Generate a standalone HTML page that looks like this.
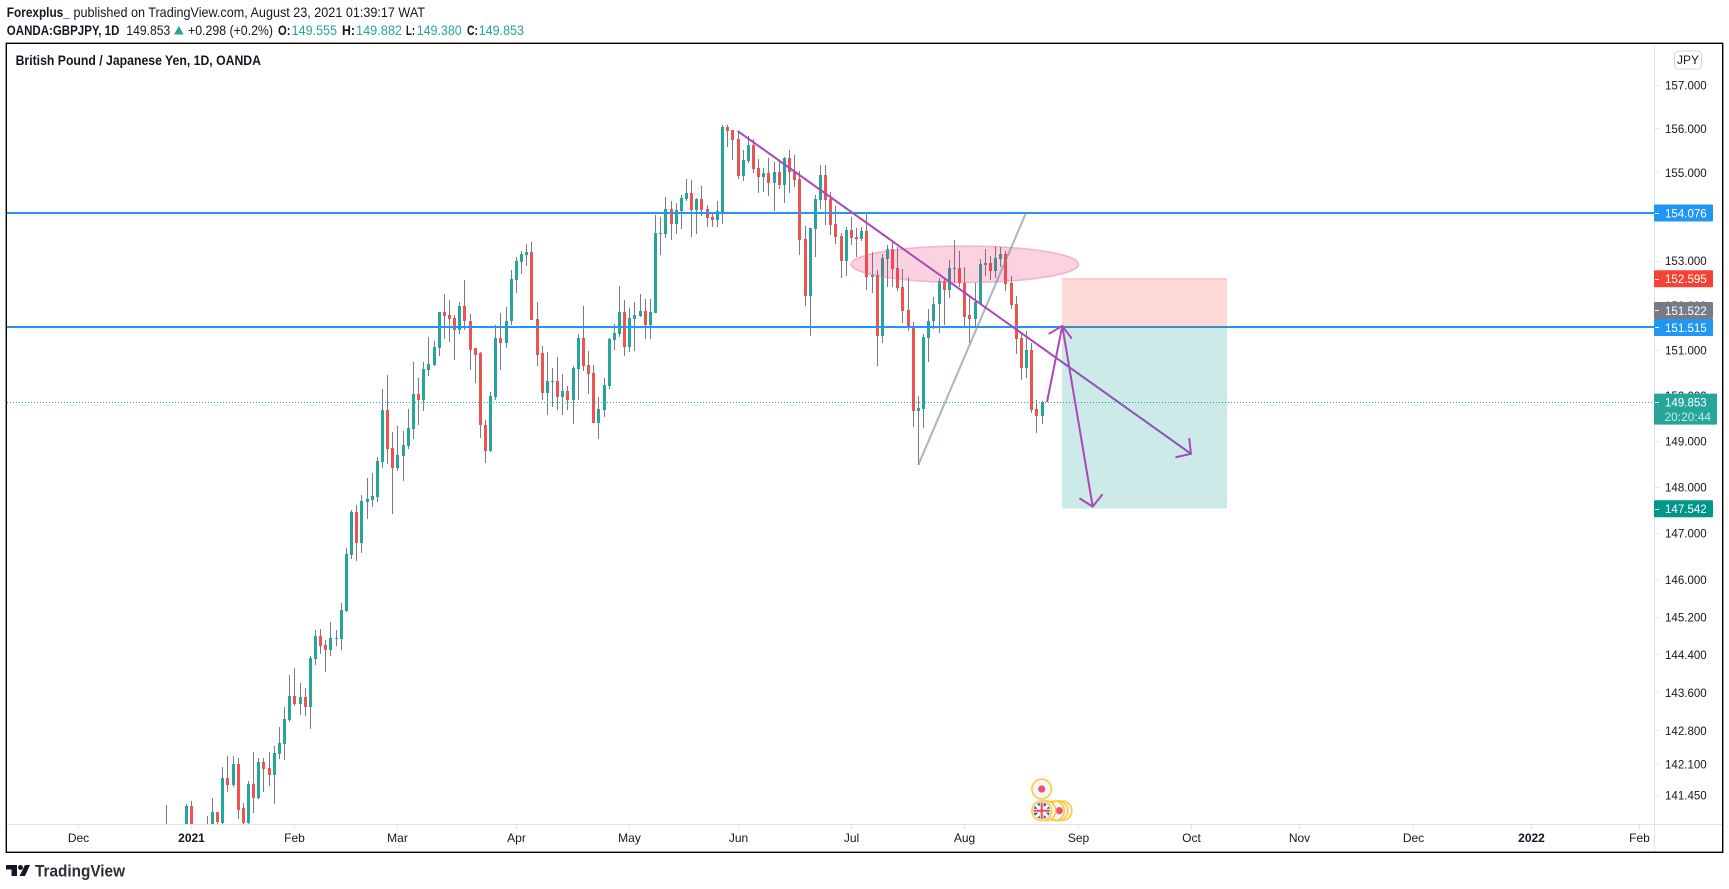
<!DOCTYPE html>
<html lang="en">
<head>
<meta charset="utf-8">
<title>GBPJPY chart</title>
<style>
html,body{margin:0;padding:0;background:#fff;width:1729px;height:889px;overflow:hidden}
svg{display:block;font-family:"Liberation Sans",sans-serif}
text{fill:#131722}
</style>
</head>
<body>
<svg id="root" width="1729" height="889" viewBox="0 0 1729 889" xmlns="http://www.w3.org/2000/svg">
  <defs>
    <clipPath id="pane-clip"><rect x="7" y="44" width="1647" height="780"/></clipPath>
    <clipPath id="flag-clip"><circle cx="1041.7" cy="810.7" r="8.2"/></clipPath>
  </defs>

  <g font-size="14">
    <text x="6.8" y="17" font-weight="700" textLength="63" lengthAdjust="spacingAndGlyphs">Forexplus_</text>
    <text x="73.5" y="17" textLength="351.5" lengthAdjust="spacingAndGlyphs">published on TradingView.com, August 23, 2021 01:39:17 WAT</text>
    <text x="6.8" y="35" font-weight="700" textLength="112.6" lengthAdjust="spacingAndGlyphs">OANDA:GBPJPY, 1D</text>
    <text x="126.3" y="35" textLength="44" lengthAdjust="spacingAndGlyphs">149.853</text>
    <polygon points="174,34.5 178.8,26 183.6,34.5" fill="#26a69a"/>
    <text x="188" y="35" textLength="85" lengthAdjust="spacingAndGlyphs">+0.298 (+0.2%)</text>
    <text x="278" y="35" font-weight="700" textLength="12.5" lengthAdjust="spacingAndGlyphs">O:</text>
    <text x="291.6" y="35" style="fill:#26a69a" textLength="45.4" lengthAdjust="spacingAndGlyphs">149.555</text>
    <text x="342" y="35" font-weight="700" textLength="13" lengthAdjust="spacingAndGlyphs">H:</text>
    <text x="356" y="35" style="fill:#26a69a" textLength="46" lengthAdjust="spacingAndGlyphs">149.882</text>
    <text x="406" y="35" font-weight="700" textLength="9" lengthAdjust="spacingAndGlyphs">L:</text>
    <text x="416.7" y="35" style="fill:#26a69a" textLength="45" lengthAdjust="spacingAndGlyphs">149.380</text>
    <text x="467" y="35" font-weight="700" textLength="11" lengthAdjust="spacingAndGlyphs">C:</text>
    <text x="478.7" y="35" style="fill:#26a69a" textLength="45.3" lengthAdjust="spacingAndGlyphs">149.853</text>
  </g>

  <g id="candles" clip-path="url(#pane-clip)" shape-rendering="crispEdges"></g>
  <g id="overlays"></g>

  <text x="15.6" y="65" font-size="14" font-weight="700" textLength="245.4" lengthAdjust="spacingAndGlyphs">British Pound / Japanese Yen, 1D, OANDA</text>

  <g id="events"></g>

  <g id="time-axis"></g>
  <g id="price-axis"></g>

  <g>
    <rect x="1674.5" y="51" width="27" height="18" rx="4" fill="#fff" stroke="#d1d4dc"/>
    <text x="1688" y="64" font-size="12" text-anchor="middle">JPY</text>
  </g>

  <rect x="6.3" y="43.3" width="1716.4" height="809" fill="none" stroke="#000" stroke-width="1.4"/>

  <g>
    <path d="M6 865H17V876H11.5V869.5H6ZM20.5 865a2.5 2.5 0 1 1-.01 0ZM25 865H30L25 876H19.5Z" fill="#131722"/>
    <text x="35" y="876.5" font-size="17" font-weight="700" style="fill:#2a2e39" textLength="90" lengthAdjust="spacingAndGlyphs">TradingView</text>
  </g>
</svg>

<script>
// ---------- series data (GBPJPY daily) ----------
const opens = [
140.6,140.5,140.4,140.5,140.6,141.23,140.7,140.5,140.5,140.7,
141.10,140.87,141.80,141.66,142.10,141.17,140.87,141.68,141.39,142.14,
142.01,141.87,142.31,142.52,143.02,143.52,143.35,143.50,143.29,144.31,
144.80,144.61,144.50,144.72,144.72,145.33,146.52,147.45,146.78,147.67,
147.71,147.78,148.55,149.69,148.85,148.42,148.68,148.90,149.27,150.04,
149.91,150.57,150.68,151.06,151.86,151.79,151.72,151.44,151.99,151.66,
151.04,150.93,149.36,148.79,149.97,151.28,151.17,151.64,152.57,152.98,
153.13,153.20,151.70,150.93,150.06,150.30,150.32,149.97,150.10,149.91,
150.59,151.28,150.68,150.50,149.40,149.68,150.21,151.23,151.37,151.86,
151.08,151.70,151.77,151.88,151.57,151.83,153.60,153.60,154.16,153.82,
154.12,154.39,154.53,154.14,154.39,154.16,153.98,153.91,154.10,156.03,
155.96,155.76,154.92,155.26,155.62,155.10,154.89,154.98,154.76,155.01,
154.71,155.33,155.03,154.85,153.49,152.21,153.71,154.37,154.94,154.39,
153.82,153.55,152.99,153.69,153.53,153.49,153.67,152.63,152.67,151.31,
153.03,153.26,152.83,152.40,151.89,151.51,149.66,149.70,151.27,151.64,
152.02,152.54,152.34,152.81,152.83,152.51,151.78,151.69,152.04,152.90,
152.94,152.76,153.03,153.14,152.49,152.02,151.27,150.60,151.00,149.70,149.555];
const highs = [
141.25,140.7,140.6,140.7,141.27,141.33,140.8,140.7,141.02,141.39,
141.10,142.03,142.26,142.26,142.22,141.29,141.74,142.35,142.22,142.22,
142.35,142.47,142.87,143.29,143.97,144.12,143.80,143.69,144.37,144.91,
144.95,144.70,145.10,144.93,145.50,146.67,147.49,147.60,147.82,148.19,
148.31,148.64,150.15,150.46,149.19,149.32,149.21,149.71,150.75,150.39,
150.73,151.30,151.21,151.86,152.26,152.12,151.79,152.08,152.57,151.81,
151.04,150.95,149.47,150.08,151.57,151.83,151.97,152.80,153.09,153.22,
153.38,153.43,152.08,151.10,150.95,150.61,150.86,150.48,150.21,150.64,
151.35,151.99,150.99,150.68,149.97,150.39,151.28,151.59,152.43,152.12,
151.94,152.08,152.25,152.14,152.14,154.03,153.98,154.44,154.34,154.30,
154.48,154.85,154.82,154.41,154.69,154.26,154.10,154.34,156.08,156.08,
155.96,155.94,155.51,155.83,155.76,155.30,155.10,155.33,155.23,155.28,
155.35,155.51,155.40,155.03,153.78,153.73,154.48,155.16,155.16,154.55,
154.23,153.62,153.76,153.98,153.73,153.76,154.05,153.19,152.79,153.16,
153.35,153.46,153.30,152.81,152.63,151.62,149.99,151.36,151.91,152.18,
152.61,152.58,153.01,153.46,153.21,152.85,152.18,152.51,153.03,153.26,
153.10,153.33,153.30,153.21,152.65,152.20,151.36,151.42,151.15,149.90,149.882];
const lows = [
140.3,140.3,140.2,140.3,140.5,140.5,140.4,140.2,140.3,140.6,
140.8,140.8,141.52,141.62,140.95,140.8,140.8,141.08,141.37,141.52,
141.64,141.27,142.20,142.18,142.98,143.31,143.12,143.10,142.83,144.18,
144.42,144.03,144.37,144.57,144.50,145.31,146.44,146.40,146.57,147.30,
147.56,147.67,148.42,148.49,147.41,148.34,148.12,148.83,149.05,149.36,
149.65,150.44,150.64,150.88,151.24,151.19,150.79,151.35,151.46,150.57,
150.28,149.07,148.53,148.77,149.89,150.57,151.06,151.55,152.28,152.71,
152.89,151.68,150.66,149.89,149.58,149.75,149.67,149.58,149.69,149.38,
149.89,150.55,150.04,149.40,149.05,149.53,150.15,151.01,151.30,150.88,
150.95,150.99,151.74,151.26,151.26,151.83,153.13,153.51,153.46,153.60,
153.71,154.34,153.53,153.60,154.00,153.76,153.76,153.76,153.82,155.58,
155.28,154.85,154.80,155.21,154.98,154.53,154.55,154.46,154.12,154.62,
154.30,154.53,154.66,153.13,151.99,151.32,153.08,154.16,153.80,153.58,
153.37,152.61,152.65,153.35,153.08,153.44,152.34,152.27,150.65,151.15,
152.40,152.40,152.31,151.60,151.42,149.31,148.48,149.28,150.73,151.47,
151.38,151.55,152.16,152.49,152.42,151.53,151.15,151.53,152.04,152.65,
152.56,152.61,152.85,152.31,151.91,150.91,150.34,150.38,149.62,149.18,149.38];
const closes = [
140.7,140.4,140.5,140.6,141.23,140.7,140.5,140.4,140.7,141.10,
140.88,141.80,141.66,142.10,141.14,140.87,141.68,141.39,142.14,141.99,
141.87,142.33,142.54,143.04,143.52,143.35,143.50,143.29,144.33,144.80,
144.59,144.50,144.74,144.74,145.35,146.54,147.45,146.78,147.69,147.73,
147.80,148.57,149.69,148.83,148.42,148.70,148.92,149.29,150.04,149.91,
150.59,150.70,151.08,151.86,151.77,151.70,151.44,151.99,151.64,151.01,
150.90,149.34,148.79,149.99,151.28,151.17,151.66,152.59,153.00,153.15,
153.20,151.68,150.90,150.06,150.32,150.32,149.97,150.10,149.91,150.61,
151.28,150.66,150.48,149.40,149.71,150.23,151.26,151.39,151.86,151.08,
151.72,151.79,151.88,151.57,151.86,153.62,153.62,154.16,153.82,154.14,
154.41,154.53,154.14,154.39,154.14,153.96,153.91,154.12,156.03,155.94,
155.74,154.92,155.28,155.62,155.07,154.89,154.98,154.76,155.01,154.71,
155.33,155.01,154.82,153.46,152.21,153.73,154.39,154.94,154.37,153.80,
153.53,152.99,153.69,153.51,153.49,153.67,152.63,152.67,151.32,153.05,
153.26,152.81,152.38,151.87,151.53,149.66,149.72,151.29,151.66,152.04,
152.54,152.34,152.83,152.83,152.49,151.75,151.69,152.07,152.92,152.94,
152.76,153.05,153.14,152.47,152.00,151.24,150.60,151.00,149.68,149.55,149.853];

// ---------- axis data ----------
const priceTickValues = [157,156,155,154,153,152,151,150,149,148,147,146,145.2,144.4,143.6,142.8,142.1,141.45];
const priceTickLabels = ["157.000","156.000","155.000","154.000","153.000","152.000","151.000","150.000","149.000","148.000","147.000","146.000","145.200","144.400","143.600","142.800","142.100","141.450"];
const timeTickLabels = ["Dec","2021","Feb","Mar","Apr","May","Jun","Jul","Aug","Sep","Oct","Nov","Dec","2022","Feb"];
const timeTickBars = [-17,5,25,45,68,90,111,133,155,177,199,220,242,265,286];
const timeTickBold = ["2021","2022"];

// ---------- levels & drawings: bar index / price ----------
const horizontalLevels = [154.076,151.515];
const lastPrice = 149.853;
const countdown = "20:20:44";
const stopPrice = 152.595;
const entryPrice = 151.522;
const targetPrice = 147.542;
const positionBars = [173.77,205.8];
const trendBars = [110.84,198.8];
const trendPrices = [155.94,148.72];
const greyBars = [145.9,166.8];
const greyPrices = [148.48,154.08];
const arrowUpBars = [170.86,173.83];
const arrowUpPrices = [149.855,151.54];
const arrowDownBars = [173.83,179.73];
const arrowDownPrices = [151.54,147.57];
const ellipseBars = [132.85,177.01];
const ellipsePrices = [153.33,152.51];

// ---------- scales ----------
function xOf(i){return 166.55+5.153*i;}
function yOf(p){return 85+6807*Math.log(157/p);}

const NS="http://www.w3.org/2000/svg";
function mk(parent,tag,attrs,txt){
  const el=document.createElementNS(NS,tag);
  for(const k in attrs){el.setAttribute(k,attrs[k]);}
  if(txt!==undefined){el.textContent=txt;}
  parent.appendChild(el);
  return el;
}

// ---------- candles ----------
const candleGroup=document.getElementById('candles');
opens.forEach(function(o,i){
  const c=closes[i];
  const col=Math.floor(xOf(i)-0.5);
  const up=c>=o;
  const g=mk(candleGroup,'g',{});
  
  
  const wt=Math.round(yOf(highs[i]));
  const wb=Math.round(yOf(lows[i]));
  const wick=mk(g,'rect',{x:col,y:wt,width:1,height:Math.max(1,wb-wt),fill:'#787b86'});
  
  
  const bt=Math.round(yOf(Math.max(o,c)));
  const bb=Math.round(yOf(Math.min(o,c)));
  const body=mk(g,'rect',{x:col-1,y:bt,width:3,height:Math.max(1,bb-bt),fill:up?'#26a69a':'#ef5350'});
  
  
});

// ---------- overlays ----------
const ov=document.getElementById('overlays');

const lastLine=mk(ov,'line',{x1:7,x2:1654,y1:Math.round(yOf(lastPrice))+0.5,y2:Math.round(yOf(lastPrice))+0.5,stroke:'#26a69a','stroke-width':1,'stroke-dasharray':'1 2'});



horizontalLevels.forEach(function(p){
  const l=mk(ov,'line',{x1:7,x2:1654,y1:Math.round(yOf(p)),y2:Math.round(yOf(p)),stroke:'#2196f3','stroke-width':2});
  
  
});

const ell=mk(ov,'ellipse',{
  cx:(xOf(ellipseBars[0])+xOf(ellipseBars[1]))/2,
  cy:(yOf(ellipsePrices[0])+yOf(ellipsePrices[1]))/2,
  rx:(xOf(ellipseBars[1])-xOf(ellipseBars[0]))/2,
  ry:(yOf(ellipsePrices[1])-yOf(ellipsePrices[0]))/2,
  fill:'rgba(233,30,99,0.2)',stroke:'rgba(240,98,146,0.4)','stroke-width':1.5});



const grey=mk(ov,'line',{x1:xOf(greyBars[0]),y1:yOf(greyPrices[0]),x2:xOf(greyBars[1]),y2:yOf(greyPrices[1]),stroke:'rgba(120,144,156,0.65)','stroke-width':2});



function arrowHead(parent,x1,y1,x2,y2){
  const back=Math.atan2(y1-y2,x1-x2);
  [-0.84,0.84].forEach(function(d){
    const w=mk(parent,'line',{x1:x2,y1:y2,x2:x2+15*Math.cos(back+d),y2:y2+15*Math.sin(back+d),stroke:'#ab47bc','stroke-width':2,'stroke-linecap':'round'});
    
    
  });
}

const trend=mk(ov,'line',{x1:xOf(trendBars[0]),y1:yOf(trendPrices[0]),x2:xOf(trendBars[1]),y2:yOf(trendPrices[1]),stroke:'#ab47bc','stroke-width':2});



const stopBox=mk(ov,'rect',{x:xOf(positionBars[0]),y:yOf(stopPrice),width:xOf(positionBars[1])-xOf(positionBars[0]),height:yOf(entryPrice)-yOf(stopPrice),fill:'rgba(244,67,54,0.2)'});


const stopEdge=mk(ov,'line',{x1:xOf(positionBars[0]),x2:xOf(positionBars[1]),y1:yOf(stopPrice),y2:yOf(stopPrice),stroke:'rgba(244,67,54,0.3)','stroke-width':1});


const targetBox=mk(ov,'rect',{x:xOf(positionBars[0]),y:yOf(entryPrice),width:xOf(positionBars[1])-xOf(positionBars[0]),height:yOf(targetPrice)-yOf(entryPrice)+0.6,fill:'rgba(0,150,136,0.2)'});


const entryEdge=mk(ov,'line',{x1:xOf(positionBars[0]),x2:xOf(positionBars[1]),y1:yOf(entryPrice),y2:yOf(entryPrice),stroke:'rgba(120,123,134,0.6)','stroke-width':1});



arrowHead(ov,xOf(trendBars[0]),yOf(trendPrices[0]),xOf(trendBars[1]),yOf(trendPrices[1]));

const aUp=mk(ov,'line',{x1:xOf(arrowUpBars[0]),y1:yOf(arrowUpPrices[0]),x2:xOf(arrowUpBars[1]),y2:yOf(arrowUpPrices[1]),stroke:'#ab47bc','stroke-width':2});


arrowHead(ov,xOf(arrowUpBars[0]),yOf(arrowUpPrices[0]),xOf(arrowUpBars[1]),yOf(arrowUpPrices[1]));

const aDown=mk(ov,'line',{x1:xOf(arrowDownBars[0]),y1:yOf(arrowDownPrices[0]),x2:xOf(arrowDownBars[1]),y2:yOf(arrowDownPrices[1]),stroke:'#ab47bc','stroke-width':2});


arrowHead(ov,xOf(arrowDownBars[0]),yOf(arrowDownPrices[0]),xOf(arrowDownBars[1]),yOf(arrowDownPrices[1]));

// ---------- time axis ----------
const timeG=document.getElementById('time-axis');
const timeLine=mk(timeG,'rect',{x:7,y:824,width:1715,height:1,fill:'#e0e3eb'});


timeTickLabels.forEach(function(label,i){
  const x=Math.round(xOf(timeTickBars[i]));
  const tk=mk(timeG,'rect',{x:x-1,y:825,width:1,height:4,fill:'#e0e3eb'});
  
  
  const bold=timeTickBold.indexOf(label)>=0;
  const t=mk(timeG,'text',{x:x-0.5,y:842,'font-size':12,'text-anchor':'middle','font-weight':bold?700:400},label);
  
  
});

// ---------- price axis ----------
const priceG=document.getElementById('price-axis');
const priceLine=mk(priceG,'rect',{x:1654,y:44,width:1,height:808,fill:'#e0e3eb'});


priceTickValues.forEach(function(v,i){
  const y=yOf(v);
  const tk=mk(priceG,'rect',{x:1655,y:Math.round(y),width:4,height:1,fill:'#e0e3eb'});
  
  
  const t=mk(priceG,'text',{x:1665,y:y+4.5,'font-size':12,textLength:41.7,lengthAdjust:'spacingAndGlyphs'},priceTickLabels[i]);
  
  
});

function priceBadge(price,fill,shift){
  const cy=yOf(price)+shift;
  const g=mk(priceG,'g',{});
  
  
  const r=mk(g,'rect',{x:1654,y:cy-8.5,width:59,height:17,fill:fill,rx:1});
  
  
  const tk=mk(g,'rect',{x:1655,y:Math.round(cy),width:4,height:1,fill:'#fff'});
  
  
  const t=mk(g,'text',{x:1665,y:cy+4.5,'font-size':12,style:'fill:#fff',textLength:41.7,lengthAdjust:'spacingAndGlyphs'},price.toFixed(3));
  
  
}
priceBadge(horizontalLevels[0],'#2196f3',0);
priceBadge(stopPrice,'#f44336',0);
priceBadge(entryPrice,'#787b86',-16.3);
priceBadge(horizontalLevels[1],'#2196f3',0.4);
priceBadge(targetPrice,'#009688',0.8);

// last-price badge with countdown
const lastY=yOf(lastPrice);
const lastBox=mk(priceG,'rect',{x:1654,y:lastY-8.5,width:63,height:31,fill:'#26a69a',rx:1});


const lastTick=mk(priceG,'rect',{x:1655,y:Math.round(lastY),width:4,height:1,fill:'#fff'});


const lastTxt=mk(priceG,'text',{x:1665,y:lastY+4.5,'font-size':12,style:'fill:#fff',textLength:41.7,lengthAdjust:'spacingAndGlyphs'},lastPrice.toFixed(3));


const cdTxt=mk(priceG,'text',{x:1664.5,y:lastY+18.8,'font-size':12,style:'fill:rgba(255,255,255,0.75)',textLength:46.5,lengthAdjust:'spacingAndGlyphs'},countdown);



// ---------- event badges ----------
const ev=document.getElementById('events');
function ring(cx,cy,fill){
  const c=mk(ev,'circle',{cx:cx,cy:cy,r:9.8,fill:fill,stroke:'#ffc93c','stroke-width':1.6});
  
  
}
function dot(cx,cy){
  const c=mk(ev,'circle',{cx:cx,cy:cy,r:3.6,fill:'#f0506e'});
  
  
}
ring(1041.7,789,'#f6f6fb');
dot(1041.7,789);
ring(1062,810.7,'#f6f6fb');
ring(1058,810.7,'#f6f6fb');
dot(1059.3,810.7);
ring(1054.5,810.7,'none');
ring(1046,810.7,'#f6f6fb');
ring(1041.7,810.7,'#fff');
const flag=mk(ev,'g',{'clip-path':'url(#flag-clip)'});


const flagBg=mk(flag,'rect',{x:1033,y:802,width:18,height:18,fill:'#3c4c96'});


const flagD1=mk(flag,'line',{x1:1033,y1:802,x2:1051,y2:820,stroke:'#fff','stroke-width':3});


const flagD2=mk(flag,'line',{x1:1051,y1:802,x2:1033,y2:820,stroke:'#fff','stroke-width':3});


const flagW1=mk(flag,'rect',{x:1039.7,y:802,width:4,height:18,fill:'#fff'});


const flagW2=mk(flag,'rect',{x:1033,y:808.7,width:18,height:4,fill:'#fff'});


const flagR1=mk(flag,'rect',{x:1040.7,y:802,width:2,height:18,fill:'#e8475f'});


const flagR2=mk(flag,'rect',{x:1033,y:809.7,width:18,height:2,fill:'#e8475f'});


</script>
</body>
</html>
